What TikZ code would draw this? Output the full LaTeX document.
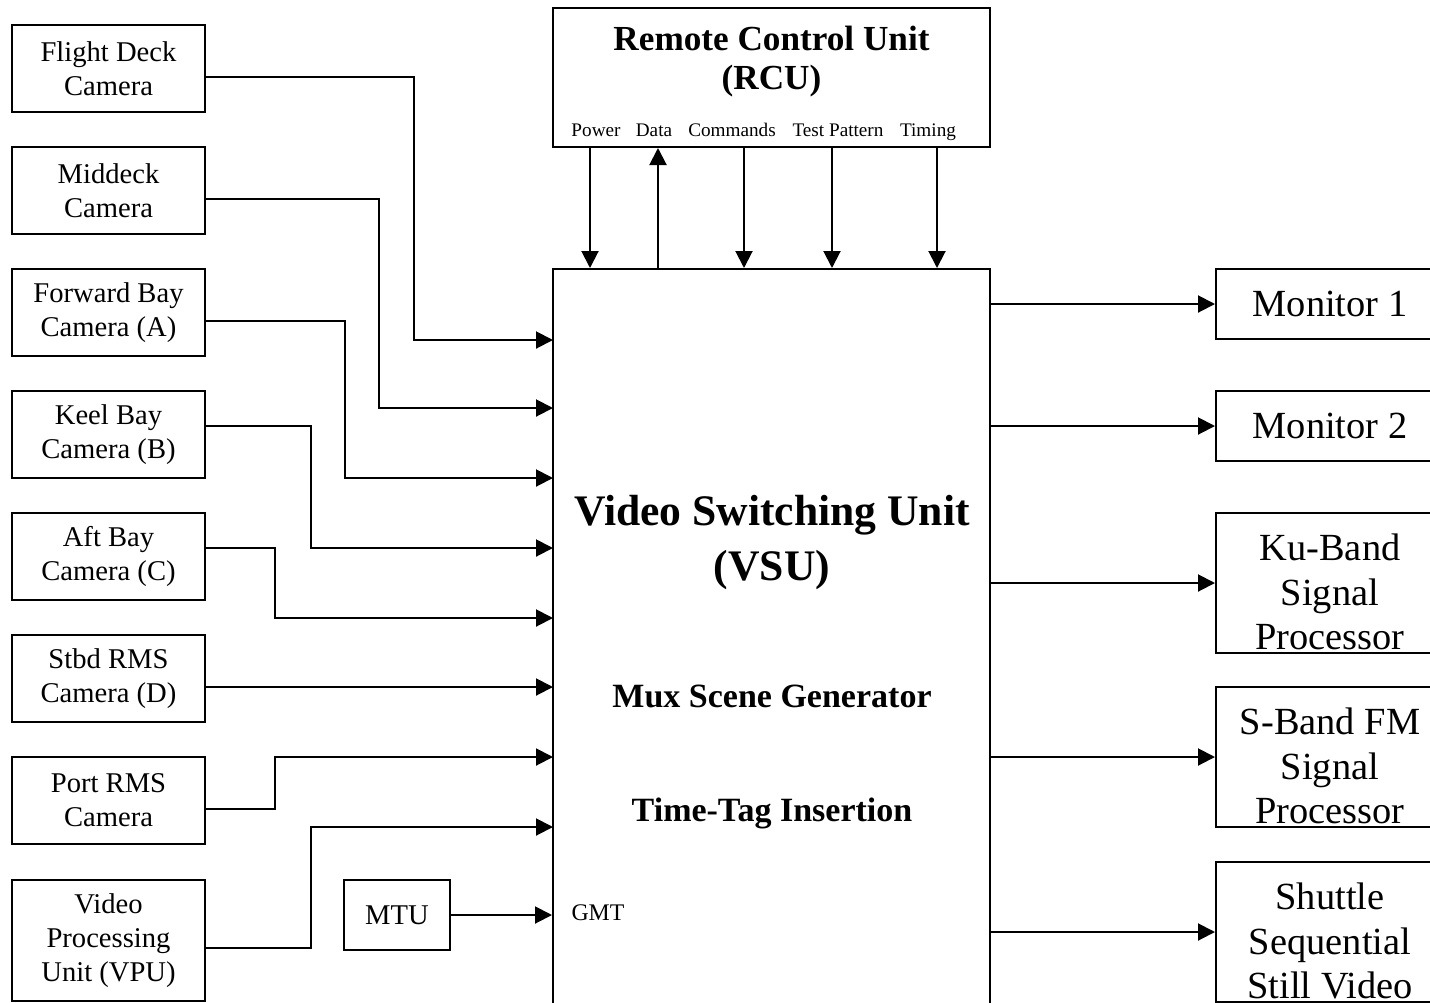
\documentclass[tikz,border=0pt]{standalone}
\usepackage{fontspec}
\setmainfont{Liberation Serif}
\usetikzlibrary{arrows.meta, positioning, calc}
\tikzset{
    cambox/.style={rectangle, draw, line width=1pt, minimum width=96.5pt, minimum height=43.5pt, inner sep=0pt, align=center, font=\fontsize{14.3}{17}\selectfont},
    outbox/.style={rectangle, draw, line width=1pt, minimum width=114pt, minimum height=35pt, inner sep=0pt, align=center, font=\fontsize{19.2}{22.3}\selectfont},
    outtext/.style={align=center, inner sep=0pt, yshift=-4.5pt, font=\fontsize{19.2}{22.3}\selectfont},
    unitbox/.style={rectangle, draw, line width=1pt, minimum width=218.5pt, inner sep=0pt},
    sig/.style={inner sep=0pt, anchor=base, font=\fontsize{9.6}{11}\selectfont},
    wire/.style={line width=1pt},
    arrow/.style={line width=1pt, -{Triangle[length=8.5pt,width=8.5pt]}}
}

\begin{document}
\begin{tikzpicture}[x=0.5pt, y=-0.5pt]
    \useasboundingbox (0,0) rectangle (1430,1002);
    \clip (0,0) rectangle (1430,1002);

    % control and switching units
    \node[unitbox, minimum height=69.5pt] (rcu) at (771.5,77.5) {};
    \node[align=center, font=\bfseries\fontsize{17.6}{19.5}\selectfont] (rcutitle) at (771.5,62) {Remote Control Unit\\(RCU)};
    \node[unitbox, minimum height=375.5pt] (vsu) at (771.5,644.5) {};
    \node[align=center, font=\bfseries\fontsize{21.8}{27.5}\selectfont] (vsutitle) at (772,543) {Video Switching Unit\\(VSU)};
    \node[font=\bfseries\fontsize{17}{20}\selectfont] (mux) at (772,696) {Mux Scene Generator};
    \node[font=\bfseries\fontsize{17}{20}\selectfont] (ttag) at (772,813) {Time-Tag Insertion};

    % rcu signals
    \node[sig] (pwr) at (596,136) {Power};
    \node[sig] (dat) at (654,136) {Data};
    \node[sig] (cmd) at (732,136) {Commands};
    \node[sig] (tst) at (838,136) {Test Pattern};
    \node[sig] (tim) at (928,136) {Timing};
    \coordinate (tpwr) at (590,0);
    \coordinate (tdat) at (658,0);
    \coordinate (tcmd) at (744,0);
    \coordinate (ttst) at (832,0);
    \coordinate (ttim) at (937,0);
    \foreach \t in {tpwr,tcmd,ttst,ttim}
        \draw[arrow] (rcu.south -| \t) -- (vsu.north -| \t);
    \draw[arrow] (vsu.north -| tdat) -- (rcu.south -| tdat);

    % cameras
    \node[cambox] (fdc) at (108.5,68.5) {Flight Deck\\Camera};
    \node[cambox] (mdc) at (108.5,190.5) {Middeck\\Camera};
    \node[cambox] (fbc) at (108.5,312.5) {Forward Bay\\Camera (A)};
    \node[cambox] (kbc) at (108.5,434.5) {Keel Bay\\Camera (B)};
    \node[cambox] (abc) at (108.5,556.5) {Aft Bay\\Camera (C)};
    \node[cambox] (sbc) at (108.5,678.5) {Stbd RMS\\Camera (D)};
    \node[cambox] (prc) at (108.5,800.5) {Port RMS\\Camera};
    \node[cambox, minimum height=60.5pt] (vpu) at (108.5,940.5) {Video\\Processing\\Unit (VPU)};
    \node[cambox, minimum width=53pt, minimum height=35pt] (mtu) at (397,915) {MTU};
    \node[inner sep=0pt, font=\fontsize{11.9}{14}\selectfont] (gmt) at (598,913) {GMT};

    % vsu inputs
    \foreach \n/\y in {1/340,2/408,3/478,4/548,5/618,6/687,7/757,8/827}
        \coordinate (in\n) at (553,\y);
    \draw[arrow] ($(fdc.east)+(0,8.5)$) -- ++(208,0) |- (in1);
    \draw[arrow] ($(mdc.east)+(0,8.5)$) -- ++(173,0) |- (in2);
    \draw[arrow] ($(fbc.east)+(0,8.5)$) -- ++(139,0) |- (in3);
    \draw[arrow] ($(kbc.east)+(0,-8.5)$) -- ++(105,0) |- (in4);
    \draw[arrow] ($(abc.east)+(0,-8.5)$) -- ++(69,0) |- (in5);
    \draw[arrow] ($(sbc.east)+(0,8.5)$) -- (in6);
    \draw[arrow] ($(prc.east)+(0,8.5)$) -- ++(69,0) |- (in7);
    \draw[arrow] ($(vpu.east)+(0,7.5)$) -- ++(105,0) |- (in8);
    \draw[arrow] (mtu.east) -- (vsu.west |- mtu.east);

    % outputs
    \node[outbox] (mon1) at (1330,304) {Monitor 1};
    \node[outbox] (mon2) at (1330,426) {Monitor 2};
    \node[outbox, minimum height=70pt, label={[outtext]center:Ku-Band\\Signal\\Processor}] (ku) at (1330,583) {};
    \node[outbox, minimum height=70pt, label={[outtext]center:S-Band FM\\Signal\\Processor}] (sb) at (1330,757) {};
    \node[outbox, minimum height=70pt, label={[outtext]center:Shuttle\\Sequential\\Still Video}] (ssv) at (1330,932) {};
    \foreach \o in {mon1,mon2,ku,sb,ssv}
        \draw[arrow] (vsu.east |- \o) -- (\o.west);
\end{tikzpicture}
\end{document}
